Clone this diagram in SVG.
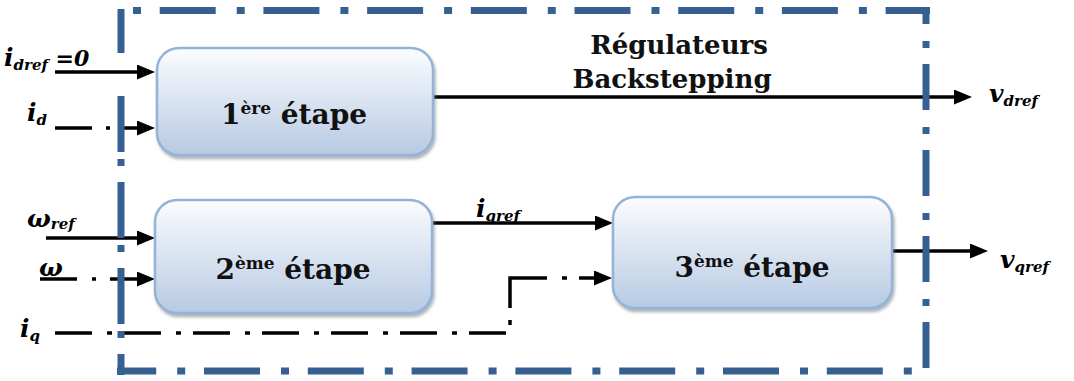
<svg xmlns="http://www.w3.org/2000/svg" width="1074" height="381" viewBox="0 0 1074 381">
<style>
.ln{fill:none;stroke:#000;stroke-width:3.5}
.fr{fill:none;stroke:#376092;stroke-width:7}
.box{fill:url(#g);stroke:#95b3d7;stroke-width:2.5;filter:url(#sh)}
.nt{font-family:"DejaVu Serif",serif;font-weight:bold;font-size:28px;fill:#111;text-anchor:middle}
.tt{font-family:"DejaVu Serif",serif;font-weight:bold;font-size:26px;fill:#111;text-anchor:middle}
.m{font-family:"DejaVu Serif",serif;font-weight:bold;font-style:italic;font-size:25px;fill:#000}
.s{font-size:15px}
</style>
<defs>
<linearGradient id="g" x1="0" y1="0" x2="0" y2="1">
<stop offset="0" stop-color="#fbfcfe"/>
<stop offset="1" stop-color="#b7cae3"/>
</linearGradient>
<filter id="sh" x="-10%" y="-10%" width="120%" height="130%">
<feDropShadow dx="1.5" dy="3" stdDeviation="1.5" flood-color="#6d7480" flood-opacity="0.55"/>
</filter>
<marker id="ah" markerUnits="userSpaceOnUse" markerWidth="18" markerHeight="15" refX="5" refY="7.5" orient="auto">
<path d="M0,0 L18,7.5 L0,15 Z" fill="#000"/>
</marker>
</defs>
<rect width="1074" height="381" fill="#fff"/>

<g id="connectors">
<path class="ln" d="M55,72 H142" marker-end="url(#ah)"/>
<path class="ln" d="M55,128 H92 M106,128 H110"/>
<path class="ln" d="M118,128 H142" marker-end="url(#ah)"/>
<path class="ln" d="M46,238 H142" marker-end="url(#ah)"/>
<path class="ln" d="M40,279 H77 M92,279 H96"/>
<path class="ln" d="M110,279 H142" marker-end="url(#ah)"/>
<path class="ln" d="M55,333 H510" stroke-dasharray="37 15 5 12"/>
<path class="ln" d="M510,325 V320 M510,308 V278 H547 M562,278 H567"/>
<path class="ln" d="M579,278 H599" marker-end="url(#ah)"/>
<path class="ln" d="M432,223 H600" marker-end="url(#ah)"/>
<path class="ln" d="M433,97 H959" marker-end="url(#ah)"/>
<path class="ln" d="M892,251 H975" marker-end="url(#ah)"/>
</g>

<g id="frame">
<line class="fr" x1="133" y1="10.5" x2="930" y2="10.5" stroke-dasharray="56 21 8 18.7" stroke-dashoffset="77"/>
<line class="fr" x1="926" y1="7" x2="926" y2="368" stroke-dasharray="46 17 7 16" stroke-dashoffset="29"/>
<line class="fr" x1="117" y1="371" x2="912" y2="371" stroke-dasharray="56 21 8 18.8" stroke-dashoffset="16.8"/>
<line class="fr" x1="121" y1="9" x2="121" y2="375" stroke-dasharray="44 43 56 7 7 16 56 7 7 16 56 7 7 16 22"/>
</g>

<g id="n1">
<rect class="box" x="157" y="48" width="276" height="107" rx="22"/>
<text class="nt" x="294" y="124">1<tspan font-size="17" dy="-10">ère</tspan><tspan dy="10"> étape</tspan></text>
</g>
<g id="n2">
<rect class="box" x="155" y="200" width="277" height="113" rx="22"/>
<text class="nt" x="293" y="279">2<tspan font-size="17" dy="-10">ème</tspan><tspan dy="10"> étape</tspan></text>
</g>
<g id="n3">
<rect class="box" x="613" y="197" width="279" height="111" rx="22"/>
<text class="nt" x="752" y="277">3<tspan font-size="17" dy="-10">ème</tspan><tspan dy="10"> étape</tspan></text>
</g>

<g id="labels">
<text class="tt" x="679" y="54">Régulateurs</text>
<text class="tt" x="672" y="88">Backstepping</text>
<text class="m" x="4" y="66">i<tspan class="s" dy="4">dref</tspan><tspan dy="-4" font-size="22"> =0</tspan></text>
<text class="m" x="27" y="121">i<tspan class="s" dy="4">d</tspan></text>
<text class="m" x="27" y="227">ω<tspan class="s" dy="2">ref</tspan></text>
<text class="m" x="39" y="276">ω</text>
<text class="m" x="20" y="337">i<tspan class="s" dy="4">q</tspan></text>
<text class="m" x="476" y="217">i<tspan class="s" dy="4">qref</tspan></text>
<text class="m" x="989" y="102">v<tspan class="s" dy="4">dref</tspan></text>
<text class="m" x="1000" y="268">v<tspan class="s" dy="4">qref</tspan></text>
</g>
</svg>
